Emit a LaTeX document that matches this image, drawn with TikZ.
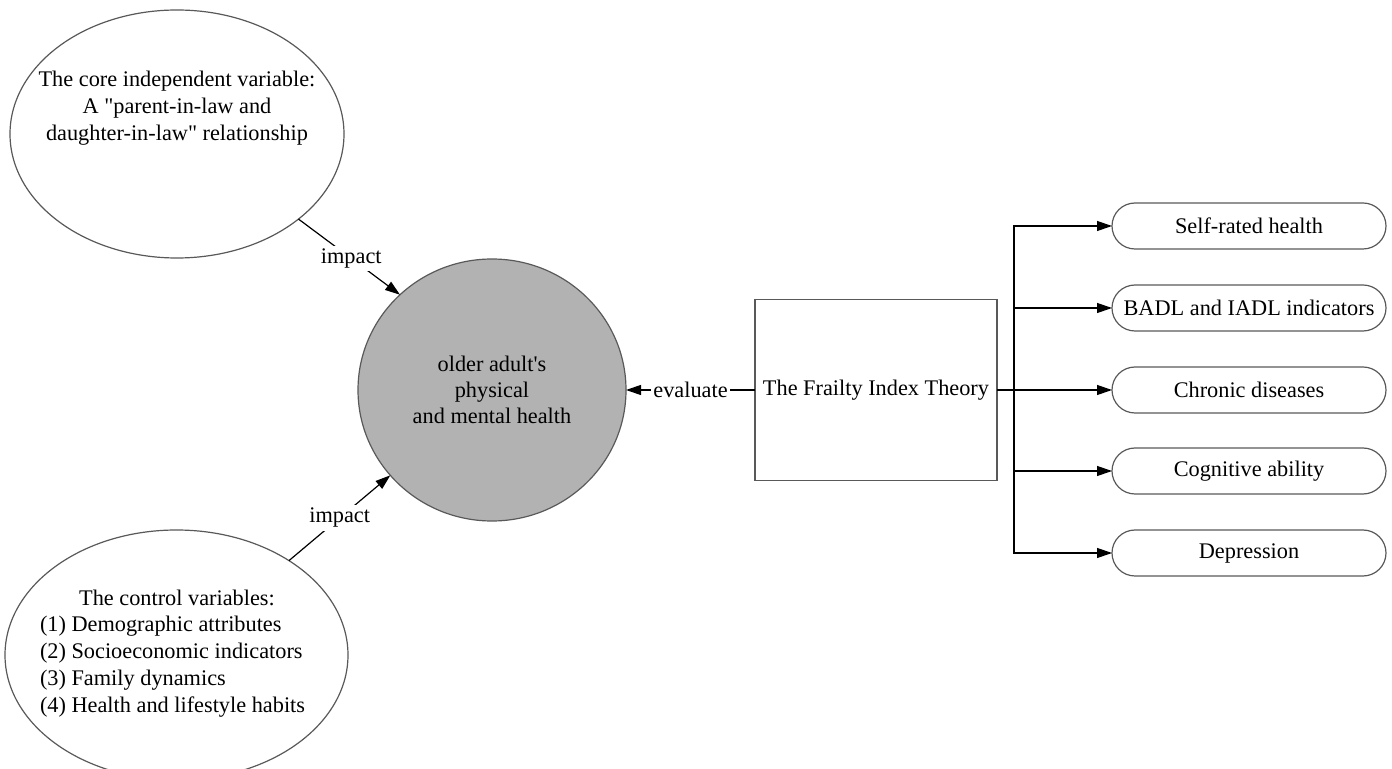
\documentclass[tikz,border=0pt]{standalone}
\usepackage{fontspec}
\setmainfont{Liberation Serif}
\usetikzlibrary{arrows.meta,shapes.geometric}
\begin{document}
\begin{tikzpicture}[x=0.5pt,y=-0.5pt,
  every node/.style={font=\fontsize{11.15}{13.5}\selectfont, inner sep=0pt, outer sep=0pt},
  shapeline/.style={draw=black!65, line width=0.6pt},
  ell/.style={shapeline, ellipse, fill=white},
  hub/.style={shapeline, ellipse, fill=black!30, align=center, font=\fontsize{11.15}{13}\selectfont},
  frame/.style={shapeline, rectangle, minimum width=121pt, minimum height=90.5pt},
  pill/.style={shapeline, rectangle, rounded corners=11.5pt, minimum width=137pt, minimum height=23pt},
  conn/.style={black, line width=0.6pt},
  arr/.style={conn, -{Triangle[length=7.5pt,width=5pt]}},
  lbl/.style={fill=white, inner xsep=1pt, inner ysep=1.5pt}
]
\useasboundingbox (0,0) rectangle (1392,769);

% ellipses
\node[ell, minimum width=167pt, minimum height=124pt] (core) at (177,134) {};
\node[align=center] (coretext) at (177,108) {The core independent variable:\\ A \textquotedbl parent-in-law and\\ daughter-in-law\textquotedbl{} relationship};

\node[ell, minimum width=171.5pt, minimum height=125pt] (ctrl) at (176.5,655) {};
\node (ctrltitle) at (177,598) {The control variables:};
\node[align=left, anchor=west] (ctrllist) at (40,667) {(1) Demographic attributes\\(2) Socioeconomic indicators\\(3) Family dynamics\\(4) Health and lifestyle habits};

% central circle
\node[hub, minimum width=134pt, minimum height=131pt] (health) at (492,390) {older adult\textquotesingle s\\physical\\and mental health};

% frailty box
\node[frame] (frailty) at (876,390) {The Frailty Index Theory};

% indicator boxes
\node[pill] (p1) at (1249,226) {Self-rated health};
\node[pill] (p2) at (1249,308) {BADL and IADL indicators};
\node[pill] (p3) at (1249,390) {Chronic diseases};
\node[pill] (p4) at (1249,471) {Cognitive ability};
\node[pill] (p5) at (1249,553) {Depression};

% connectors
\draw[arr] (core.-35) -- node[lbl, pos=0.52] (imp1) {impact} (health.134);
\draw[arr] (ctrl.40) -- node[lbl] (imp2) {impact} (health.220);
\draw[arr] (frailty.west) -- node[lbl] (eval) {evaluate} (health.east);

\coordinate (split) at (1014,390);
\draw[conn] (frailty.east) -- (split);
\draw[arr] (split) |- (p1.west);
\draw[arr] (split) |- (p2.west);
\draw[arr] (split) -- (p3.west);
\draw[arr] (split) |- (p4.west);
\draw[arr] (split) |- (p5.west);
\end{tikzpicture}
\end{document}
